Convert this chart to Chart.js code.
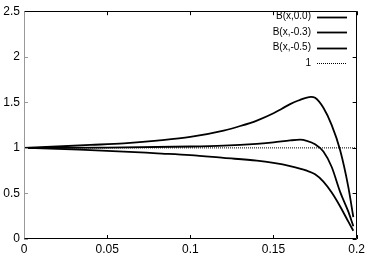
<!DOCTYPE html>
<html><head><meta charset="utf-8">
<script src="https://cdn.jsdelivr.net/npm/chart.js@4/dist/chart.umd.min.js"></script>
<style>html,body{margin:0;padding:0;background:#fff}#c{display:block}</style>
</head><body>
<div style="width:368px;height:258px"><canvas id="c" width="368" height="258"></canvas></div>
<script>
const seriesLabels = ["B(x,0.0)", "B(x,-0.3)", "B(x,-0.5)", "1"];
const xB0 = [0, 0.02, 0.04, 0.06, 0.08, 0.10, 0.12, 0.13, 0.14, 0.15, 0.155, 0.16, 0.165, 0.1725, 0.175, 0.18, 0.185, 0.19, 0.195, 0.198];
const yB0 = [1.0, 1.015, 1.032, 1.05, 1.08, 1.12, 1.19, 1.24, 1.30, 1.38, 1.43, 1.48, 1.52, 1.56, 1.55, 1.44, 1.25, 0.98, 0.57, 0.24];
const xB3 = [0, 0.05, 0.10, 0.12, 0.14, 0.15, 0.16, 0.166, 0.17, 0.175, 0.18, 0.185, 0.19, 0.195, 0.198];
const yB3 = [1.0, 1.003, 1.015, 1.025, 1.045, 1.06, 1.082, 1.09, 1.078, 1.04, 0.96, 0.79, 0.52, 0.30, 0.14];
const xB5 = [0, 0.02, 0.04, 0.06, 0.08, 0.10, 0.12, 0.14, 0.15, 0.16, 0.17, 0.175, 0.18, 0.185, 0.19, 0.195, 0.198];
const yB5 = [1.0, 0.99, 0.975, 0.96, 0.94, 0.92, 0.89, 0.86, 0.835, 0.80, 0.75, 0.71, 0.63, 0.51, 0.36, 0.19, 0.09];
const xOne = [0, 0.2];
const yOne = [1, 1];
const xTicks = [0, 0.05, 0.1, 0.15, 0.2];
const yTicks = [0, 0.5, 1, 1.5, 2, 2.5];

const pts = (xs, ys) => xs.map((x, i) => ({x, y: ys[i]}));

const framePlugin = {
  id: 'frame',
  afterDatasetsDraw(chart) {
    const {ctx, chartArea: a, scales: {x, y}} = chart;
    ctx.save();
    ctx.lineWidth = 1;
    ctx.strokeStyle = '#000';
    ctx.beginPath();
    xTicks.forEach(v => {
      const px = Math.round(x.getPixelForValue(v)) + 0.5;
      ctx.moveTo(px, a.bottom); ctx.lineTo(px, a.bottom - 4);
      ctx.moveTo(px, a.top); ctx.lineTo(px, a.top + 4);
    });
    yTicks.forEach(v => {
      const py = Math.round(y.getPixelForValue(v)) + 0.5;
      ctx.moveTo(a.right, py); ctx.lineTo(a.right - 4, py);
    });
    ctx.stroke();
    ctx.strokeStyle = '#999';
    ctx.beginPath();
    yTicks.forEach(v => {
      const py = Math.round(y.getPixelForValue(v)) + 0.5;
      ctx.moveTo(a.left, py); ctx.lineTo(a.left + 4, py);
    });
    ctx.stroke();
    ctx.strokeStyle = '#000';
    ctx.beginPath();
    const L = Math.round(a.left) + 0.5, R = Math.round(a.right) - 0.5, T = Math.round(a.top) + 0.5, B = Math.round(a.bottom) - 0.5;
    ctx.moveTo(L, B); ctx.lineTo(R, B); ctx.lineTo(R, T); ctx.lineTo(L, T);
    ctx.stroke();
    ctx.strokeStyle = '#999';
    ctx.beginPath();
    ctx.moveTo(L, T); ctx.lineTo(L, B);
    ctx.stroke();
    ctx.font = '10px "Liberation Sans", Arial, sans-serif';
    ctx.textAlign = 'right';
    ctx.textBaseline = 'middle';
    ctx.fillStyle = '#000';
    chart.data.datasets.forEach((ds, i) => {
      const cy = 16.5 + i * 15.6;
      ctx.fillText(ds.label, 311, cy);
      ctx.strokeStyle = '#000';
      ctx.lineWidth = ds.borderWidth;
      ctx.setLineDash(ds.borderDash || []);
      ctx.beginPath();
      ctx.moveTo(317, Math.round(cy) + 0.5);
      ctx.lineTo(347, Math.round(cy) + 0.5);
      ctx.stroke();
      ctx.setLineDash([]);
    });
    ctx.restore();
  }
};

new Chart(document.getElementById('c'), {
  type: 'line',
  data: {
    datasets: [
      {label: seriesLabels[0], data: pts(xB0, yB0), borderColor: '#000', borderWidth: 1.8, pointRadius: 0, cubicInterpolationMode: 'monotone'},
      {label: seriesLabels[1], data: pts(xB3, yB3), borderColor: '#000', borderWidth: 1.8, pointRadius: 0, cubicInterpolationMode: 'monotone'},
      {label: seriesLabels[2], data: pts(xB5, yB5), borderColor: '#000', borderWidth: 1.8, pointRadius: 0, cubicInterpolationMode: 'monotone'},
      {label: seriesLabels[3], data: pts(xOne, yOne), borderColor: '#000', borderWidth: 1, borderDash: [1, 1], pointRadius: 0}
    ]
  },
  options: {
    responsive: false,
    animation: false,
    layout: {padding: {top: 6, right: 11, left: 0, bottom: 0}},
    plugins: {legend: {display: false}, tooltip: {enabled: false}},
    scales: {
      x: {
        type: 'linear', min: 0, max: 0.2,
        grid: {display: false, drawTicks: false, tickLength: 0}, border: {display: false},
        afterBuildTicks: s => { s.ticks = xTicks.map(v => ({value: v})); },
        afterFit: s => { s.height = 19; },
        ticks: {padding: 3, color: '#000', font: {family: '"Liberation Sans", Arial, sans-serif', size: 12}, callback: v => String(v)}
      },
      y: {
        type: 'linear', min: 0, max: 2.5,
        grid: {display: false, drawTicks: false, tickLength: 0}, border: {display: false},
        afterBuildTicks: s => { s.ticks = yTicks.map(v => ({value: v})); },
        afterFit: s => { s.width = 24; },
        ticks: {padding: 4, color: '#000', font: {family: '"Liberation Sans", Arial, sans-serif', size: 12}, callback: v => String(v)}
      }
    }
  },
  plugins: [framePlugin]
});
</script>
</body></html>
